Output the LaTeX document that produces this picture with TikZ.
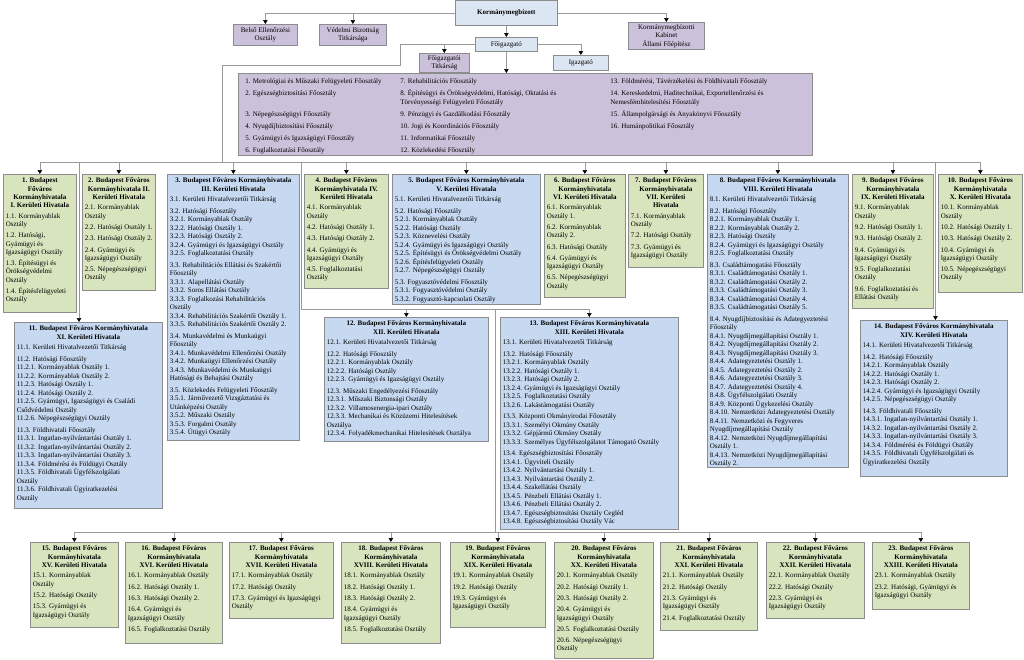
\documentclass[tikz,border=0pt]{standalone}
\usepackage{fontspec}
\setmainfont{Liberation Serif}
\usepackage{xcolor}
\usepackage{tikz}
\usetikzlibrary{positioning, arrows.meta}
\definecolor{purplebox}{HTML}{CCC1DA}
\definecolor{greenbox}{HTML}{D7E4BD}
\definecolor{bluebox}{HTML}{C6D9F1}
\definecolor{lightblue}{HTML}{DCE6F2}
\definecolor{framegray}{HTML}{8C8C8C}
\definecolor{linegray}{HTML}{9A9A9A}
\newcommand\hd[1]{{\centering\bfseries #1\par}\vspace{2.2pt}}
\newcommand\sep{\par\vspace{3pt}}
\newcommand\cellbox[3]{\parbox[c][\dimexpr#2pt-7pt\relax][t]{\dimexpr#1pt-5pt\relax}{\raggedright #3}}
\tikzset{
  box/.style={draw=framegray, line width=0.7pt, anchor=north west, inner xsep=2.5pt, inner ysep=3.5pt,
              font=\fontsize{7}{8.5}\selectfont},
  purp/.style={box, fill=purplebox, align=center, inner ysep=2pt},
  grn/.style={box, fill=greenbox, font=\fontsize{7}{8.3}\selectfont},
  blu/.style={box, fill=bluebox},
  conn/.style={draw=linegray, line width=0.6pt},
  arr/.style={conn, -{Triangle[width=4.5pt,length=4pt,color=black]}},
}

\begin{document}
\begin{tikzpicture}[x=1pt, y=-1pt]
  \useasboundingbox (0,0) rectangle (1024,659);

  % top level
  \node[box, fill=lightblue, align=center, minimum width=102pt, minimum height=25pt] (km) at (455,0)
    {\bfseries Kormánymegbízott};
  \node[purp, minimum width=64pt, minimum height=21pt] (belso) at (233,24) {Belső Ellenőrzési\\Osztály};
  \node[purp, minimum width=67pt, minimum height=21pt] (vedelmi) at (319,24) {Védelmi Bizottság\\Titkársága};
  \node[purp, minimum width=76pt, minimum height=27pt] (kabinet) at (628,22) {Kormánymegbízotti\\Kabinet\\Állami Főépítész};
  \node[box, fill=lightblue, align=center, minimum width=62pt, minimum height=14pt, inner ysep=2pt] (foig) at (475,37) {Főigazgató};
  \node[purp, minimum width=50pt, minimum height=18pt] (fotit) at (419,53) {Főigazgatói\\Titkárság};
  \node[box, fill=lightblue, align=center, minimum width=55pt, minimum height=15pt, inner ysep=2pt] (igaz) at (553,55) {Igazgató};

  \node[box, fill=purplebox, minimum width=574pt, minimum height=82pt, inner xsep=6pt, inner ysep=2pt] (fooszt) at (238,73) {%
    \parbox[c][78pt][t]{560pt}{\vspace*{2.5pt}%
    \begin{tabular}{@{}p{155pt}@{}p{210pt}@{}p{195pt}@{}}
    1. Metrológiai és Műszaki Felügyeleti Főosztály & 7. Rehabilitációs Főosztály & 13. Földmérési, Távérzékelési és Földhivatali Főosztály\\[3.5pt]
    2. Egészségbiztosítási Főosztály & 8. Építésügyi és Örökségvédelmi, Hatósági, Oktatási és\newline Törvényességi Felügyeleti Főosztály & 14. Kereskedelmi, Haditechnikai, Exportellenőrzési és\newline Nemesfémhitelesítési Főosztály\\[3.5pt]
    3. Népegészségügyi Főosztály & 9. Pénzügyi és Gazdálkodási Főosztály & 15. Állampolgársági és Anyakönyvi Főosztály\\[3.5pt]
    4. Nyugdíjbiztosítási Főosztály & 10. Jogi és Koordinációs Főosztály & 16. Humánpolitikai Főosztály\\[3.5pt]
    5. Gyámügyi és Igazságügyi Főosztály & 11. Informatikai Főosztály & \\[3.5pt]
    6. Foglalkoztatási Főosztály & 12. Közlekedési Főosztály &
    \end{tabular}}};

  % first row of district offices
  \node[grn] (d1) at (3,174) {\cellbox{73}{138}{\hd{1. Budapest\\Főváros\\Kormányhivatala\\I. Kerületi Hivatala}
    1.1. Kormányablak\\Osztály\sep 1.2. Hatósági,\\Gyámügyi és\\Igazságügyi Osztály\sep
    1.3. Építésügyi és\\Örökségvédelmi\\Osztály\sep 1.4. Építésfelügyeleti\\Osztály}};
  \node[grn] (d2) at (82,174) {\cellbox{73}{116}{\hd{2. Budapest Főváros\\Kormányhivatala II.\\Kerületi Hivatala}
    2.1. Kormányablak\\Osztály\sep 2.2. Hatósági Osztály 1.\sep 2.3. Hatósági Osztály 2.\sep
    2.4. Gyámügyi és\\Igazságügyi Osztály\sep 2.5. Népegészségügyi\\Osztály}};
  \node[blu] (d3) at (167,174) {\cellbox{132}{266}{\hd{3. Budapest Főváros Kormányhivatala\\III. Kerületi Hivatala}
    3.1. Kerületi Hivatalvezetői Titkárság\sep
    3.2. Hatósági Főosztály\\3.2.1. Kormányablak Osztály\\3.2.2. Hatósági Osztály 1.\\3.2.3. Hatósági Osztály 2.\\
    3.2.4. Gyámügyi és Igazságügyi Osztály\\3.2.5. Foglalkoztatási Osztály\sep
    3.3. Rehabilitációs Ellátási és Szakértői\\Főosztály\\3.3.1. Alapellátási Osztály\\3.3.2. Soros Ellátási Osztály\\
    3.3.3. Foglalkozási Rehabilitációs\\Osztály\\3.3.4. Rehabilitációs Szakértői Osztály 1.\\3.3.5. Rehabilitációs Szakértői Osztály 2.\sep
    3.4. Munkavédelmi és Munkaügyi\\Főosztály\\3.4.1. Munkavédelmi Ellenőrzési Osztály\\3.4.2. Munkaügyi Ellenőrzési Osztály\\
    3.4.3. Munkavédelmi és Munkaügyi\\Hatósági és Behajtási Osztály\sep
    3.5. Közlekedés Felügyeleti Főosztály\\3.5.1. Járművezető Vizsgáztatási és\\Utánképzési Osztály\\
    3.5.2. Műszaki Osztály\\3.5.3. Forgalmi Osztály\\3.5.4. Útügyi Osztály}};
  \node[grn] (d4) at (304,174) {\cellbox{84}{114}{\hd{4. Budapest Főváros\\Kormányhivatala IV.\\Kerületi Hivatala}
    4.1. Kormányablak\\Osztály\sep 4.2. Hatósági Osztály 1.\sep 4.3. Hatósági Osztály 2.\sep
    4.4. Gyámügyi és\\Igazságügyi Osztály\sep 4.5. Foglalkoztatási\\Osztály}};
  \node[blu] (d5) at (392,174) {\cellbox{148}{130}{\hd{5. Budapest Főváros Kormányhivatala\\V. Kerületi Hivatala}
    5.1. Kerületi Hivatalvezetői Titkárság\sep
    5.2. Hatósági Főosztály\\5.2.1. Kormányablak Osztály\\5.2.2. Hatósági Osztály\\5.2.3. Köznevelési Osztály\\
    5.2.4. Gyámügyi és Igazságügyi Osztály\\5.2.5. Építésügyi és Örökségvédelmi Osztály\\
    5.2.6. Építésfelügyeleti Osztály\\5.2.7. Népegészségügyi Osztály\sep
    5.3. Fogyasztóvédelmi Főosztály\\5.3.1. Fogyasztóvédelmi Osztály\\5.3.2. Fogyasztó-kapcsolati Osztály}};
  \node[grn] (d6) at (544,174) {\cellbox{81}{123}{\hd{6. Budapest Főváros\\Kormányhivatala\\VI. Kerületi Hivatala}
    6.1. Kormányablak\\Osztály 1.\sep 6.2. Kormányablak\\Osztály 2.\sep 6.3. Hatósági Osztály\sep
    6.4. Gyámügyi és\\Igazságügyi Osztály\sep 6.5. Népegészségügyi\\Osztály}};
  \node[grn] (d7) at (628,174) {\cellbox{75}{93}{\hd{7. Budapest Főváros\\Kormányhivatala\\VII. Kerületi\\Hivatala}
    7.1. Kormányablak\\Osztály\sep 7.2. Hatósági Osztály\sep 7.3. Gyámügyi és\\Igazságügyi Osztály}};
  \node[blu] (d8) at (707,174) {\cellbox{141}{293}{\hd{8. Budapest Főváros Kormányhivatala\\VIII. Kerületi Hivatala}
    8.1. Kerületi Hivatalvezetői Titkárság\sep
    8.2. Hatósági Főosztály\\8.2.1. Kormányablak Osztály 1.\\8.2.2. Kormányablak Osztály 2.\\8.2.3. Hatósági Osztály\\
    8.2.4. Gyámügyi és Igazságügyi Osztály\\8.2.5. Foglalkoztatási Osztály\sep
    8.3. Családtámogatási Főosztály\\8.3.1. Családtámogatási Osztály 1.\\8.3.2. Családtámogatási Osztály 2.\\
    8.3.3. Családtámogatási Osztály 3.\\8.3.4. Családtámogatási Osztály 4.\\8.3.5. Családtámogatási Osztály 5.\sep
    8.4. Nyugdíjbiztosítási és Adategyeztetési\\Főosztály\\8.4.1. Nyugdíjmegállapítási Osztály 1.\\
    8.4.2. Nyugdíjmegállapítási Osztály 2.\\8.4.3. Nyugdíjmegállapítási Osztály 3.\\8.4.4. Adategyeztetési Osztály 1.\\
    8.4.5. Adategyeztetési Osztály 2.\\8.4.6. Adategyeztetési Osztály 3.\\8.4.7. Adategyeztetési Osztály 4.\\
    8.4.8. Ügyfélszolgálati Osztály\\8.4.9. Központi Ügykezelési Osztály\\8.4.10. Nemzetközi Adategyeztetési Osztály\\
    8.4.11. Nemzetközi és Fegyveres\\Nyugdíjmegállapítási Osztály\\8.4.12. Nemzetközi Nyugdíjmegállapítási\\Osztály 1.\\
    8.4.13. Nemzetközi Nyugdíjmegállapítási\\Osztály 2.}};
  \node[grn] (d9) at (852,174) {\cellbox{81}{134}{\hd{9. Budapest Főváros\\Kormányhivatala\\IX. Kerületi Hivatala}
    9.1. Kormányablak\\Osztály\sep 9.2. Hatósági Osztály 1.\sep 9.3. Hatósági Osztály 2.\sep
    9.4. Gyámügyi és\\Igazságügyi Osztály\sep 9.5. Foglalkoztatási\\Osztály\sep 9.6. Foglalkoztatási és\\Ellátási Osztály}};
  \node[grn] (d10) at (938,174) {\cellbox{84}{118}{\hd{10. Budapest Főváros\\Kormányhivatala\\X. Kerületi Hivatala}
    10.1. Kormányablak\\Osztály\sep 10.2. Hatósági Osztály 1.\sep 10.3. Hatósági Osztály 2.\sep
    10.4. Gyámügyi és\\Igazságügyi Osztály\sep 10.5. Népegészségügyi\\Osztály}};

  % second row
  \node[blu] (d11) at (14,322) {\cellbox{148}{186}{\hd{11. Budapest Főváros Kormányhivatala\\XI. Kerületi Hivatala}
    11.1. Kerületi Hivatalvezetői Titkárság\sep
    11.2. Hatósági Főosztály\\11.2.1. Kormányablak Osztály 1.\\11.2.2. Kormányablak Osztály 2.\\11.2.3. Hatósági Osztály 1.\\
    11.2.4. Hatósági Osztály 2.\\11.2.5. Gyámügyi, Igazságügyi és Családi\\Csődvédelmi Osztály\\11.2.6. Népegészségügyi Osztály\sep
    11.3. Földhivatali Főosztály\\11.3.1. Ingatlan-nyilvántartási Osztály 1.\\11.3.2. Ingatlan-nyilvántartási Osztály 2.\\
    11.3.3. Ingatlan-nyilvántartási Osztály 3.\\11.3.4. Földmérési és Földügyi Osztály\\11.3.5. Földhivatali Ügyfélszolgálati\\Osztály\\
    11.3.6. Földhivatali Ügyiratkezelési\\Osztály}};
  \node[blu] (d12) at (324,317) {\cellbox{164}{124}{\hd{12. Budapest Főváros Kormányhivatala\\XII. Kerületi Hivatala}
    12.1. Kerületi Hivatalvezetői Titkárság\sep
    12.2. Hatósági Főosztály\\12.2.1. Kormányablak Osztály\\12.2.2. Hatósági Osztály\\12.2.3. Gyámügyi és Igazságügyi Osztály\sep
    12.3. Műszaki Engedélyezési Főosztály\\12.3.1. Műszaki Biztonsági Osztály\\12.3.2. Villamosenergia-ipari Osztály\\
    12.3.3. Mechanikai és Közüzemi Hitelesítések\\Osztálya\\12.3.4. Folyadékmechanikai Hitelesítések Osztálya}};
  \node[blu] (d13) at (500,317) {\cellbox{178}{212}{\hd{13. Budapest Főváros Kormányhivatala\\XIII. Kerületi Hivatala}
    13.1. Kerületi Hivatalvezetői Titkárság\sep
    13.2. Hatósági Főosztály\\13.2.1. Kormányablak Osztály\\13.2.2. Hatósági Osztály 1.\\13.2.3. Hatósági Osztály 2.\\
    13.2.4. Gyámügyi és Igazságügyi Osztály\\13.2.5. Foglalkoztatási Osztály\\13.2.6. Lakástámogatási Osztály\sep
    13.3. Központi Okmányirodai Főosztály\\13.3.1. Személyi Okmány Osztály\\13.3.2. Gépjármű Okmány Osztály\\
    13.3.3. Személyes Ügyfélszolgálatot Támogató Osztály\sep
    13.4. Egészségbiztosítási Főosztály\\13.4.1. Ügyviteli Osztály\\13.4.2. Nyilvántartási Osztály 1.\\13.4.3. Nyilvántartási Osztály 2.\\
    13.4.4. Szakellátási Osztály\\13.4.5. Pénzbeli Ellátási Osztály 1.\\13.4.6. Pénzbeli Ellátási Osztály 2.\\
    13.4.7. Egészségbiztosítási Osztály Cegléd\\13.4.8. Egészségbiztosítási Osztály Vác}};
  \node[blu] (d14) at (860,320) {\cellbox{147}{156}{\hd{14. Budapest Főváros Kormányhivatala\\XIV. Kerületi Hivatala}
    14.1. Kerületi Hivatalvezetői Titkárság\sep
    14.2. Hatósági Főosztály\\14.2.1. Kormányablak Osztály\\14.2.2. Hatósági Osztály 1.\\14.2.3. Hatósági Osztály 2.\\
    14.2.4. Gyámügyi és Igazságügyi Osztály\\14.2.5. Népegészségügyi Osztály\sep
    14.3. Földhivatali Főosztály\\14.3.1. Ingatlan-nyilvántartási Osztály 1.\\14.3.2. Ingatlan-nyilvántartási Osztály 2.\\
    14.3.3. Ingatlan-nyilvántartási Osztály 3.\\14.3.4. Földmérési és Földügyi Osztály\\
    14.3.5. Földhivatali Ügyfélszolgálati és\\Ügyiratkezelési Osztály}};

  % bottom row
  \node[grn] (d15) at (30,542) {\cellbox{88}{85}{\hd{15. Budapest Főváros\\Kormányhivatala\\XV. Kerületi Hivatala}
    15.1. Kormányablak\\Osztály\sep 15.2. Hatósági Osztály\sep 15.3. Gyámügyi és\\Igazságügyi Osztály}};
  \node[grn] (d16) at (125,542) {\cellbox{97}{101}{\hd{16. Budapest Főváros\\Kormányhivatala\\XVI. Kerületi Hivatala}
    16.1. Kormányablak  Osztály\sep 16.2. Hatósági Osztály 1.\sep 16.3. Hatósági Osztály 2.\sep
    16.4. Gyámügyi és\\Igazságügyi Osztály\sep 16.5. Foglalkoztatási Osztály}};
  \node[grn] (d17) at (229,542) {\cellbox{104}{76}{\hd{17. Budapest Főváros\\Kormányhivatala\\XVII. Kerületi Hivatala}
    17.1. Kormányablak  Osztály\sep 17.2. Hatósági Osztály\sep 17.3. Gyámügyi és Igazságügyi\\Osztály}};
  \node[grn] (d18) at (341,542) {\cellbox{99}{101}{\hd{18. Budapest Főváros\\Kormányhivatala\\XVIII. Kerületi Hivatala}
    18.1. Kormányablak Osztály\sep 18.2. Hatósági Osztály 1.\sep 18.3. Hatósági Osztály 2.\sep
    18.4. Gyámügyi és\\Igazságügyi Osztály\sep 18.5. Foglalkoztatási Osztály}};
  \node[grn] (d19) at (450,542) {\cellbox{95}{85}{\hd{19. Budapest Főváros\\Kormányhivatala\\XIX. Kerületi Hivatala}
    19.1. Kormányablak Osztály\sep 19.2. Hatósági Osztály\sep 19.3. Gyámügyi és\\Igazságügyi Osztály}};
  \node[grn] (d20) at (554,542) {\cellbox{99}{116}{\hd{20. Budapest Főváros\\Kormányhivatala\\XX. Kerületi Hivatala}
    20.1. Kormányablak  Osztály\sep 20.2. Hatósági Osztály 1.\sep 20.3. Hatósági Osztály 2.\sep
    20.4. Gyámügyi és\\Igazságügyi Osztály\sep 20.5. Foglalkoztatási Osztály\sep 20.6. Népegészségügyi\\Osztály}};
  \node[grn] (d21) at (660,542) {\cellbox{97}{88}{\hd{21. Budapest Főváros\\Kormányhivatala\\XXI. Kerületi Hivatala}
    21.1. Kormányablak Osztály\sep 21.2. Hatósági Osztály\sep 21.3. Gyámügyi és\\Igazságügyi Osztály\sep
    21.4. Foglalkoztatási Osztály}};
  \node[grn] (d22) at (766,542) {\cellbox{98}{76}{\hd{22. Budapest Főváros\\Kormányhivatala\\XXII. Kerületi Hivatala}
    22.1. Kormányablak Osztály\sep 22.2. Hatósági Osztály\sep 22.3. Gyámügyi és\\Igazságügyi Osztály}};
  \node[grn] (d23) at (872,542) {\cellbox{97}{67}{\hd{23. Budapest Főváros\\Kormányhivatala\\XXIII. Kerületi Hivatala}
    23.1. Kormányablak Osztály\sep 23.2. Hatósági, Gyámügyi és\\Igazságügyi Osztály}};

  % connectors
  \coordinate (k1) at (400,65);
  \coordinate (bus) at (222,162);
  \coordinate (v11) at (79,162);
  \coordinate (v12) at (301.5,162);
  \coordinate (v14) at (935.5,162);
  \coordinate (mid) at (495,309);
  \coordinate (bus2) at (495,532);

  \draw[arr] (km.west) -| (belso.north);
  \draw[arr] (km.west -| vedelmi.north) -- (vedelmi.north);
  \draw[arr] (km.east) -| (kabinet.north);
  \draw[arr] (km.south) -- (foig.north);
  \draw[arr] (foig.east) -| (igaz.north);
  \draw[arr] (foig.west) -| (fotit.north);
  \draw[arr] (foig.south) -- (foig.south |- fooszt.north);
  \draw[conn] (foig.west) -| (k1) -| (bus);

  \draw[conn] (d1.north |- bus) -- (d10.north |- bus);
  \foreach \i in {1,...,10}
    \draw[arr] (d\i.north |- bus) -- (d\i.north);
  \draw[arr] (v11) -- (v11 |- d11.north);
  \draw[arr] (v14) -- (v14 |- d14.north);
  \draw[conn] (v12) -- (v12 |- mid) -- (d13.north |- mid);
  \draw[arr] (d12.north |- mid) -- (d12.north);
  \draw[arr] (d13.north |- mid) -- (d13.north);
  \draw[conn] (mid) -- (bus2);
  \draw[conn] (d15.north |- bus2) -- (d23.north |- bus2);
  \foreach \i in {15,...,23}
    \draw[arr] (d\i.north |- bus2) -- (d\i.north);
\end{tikzpicture}
\end{document}
